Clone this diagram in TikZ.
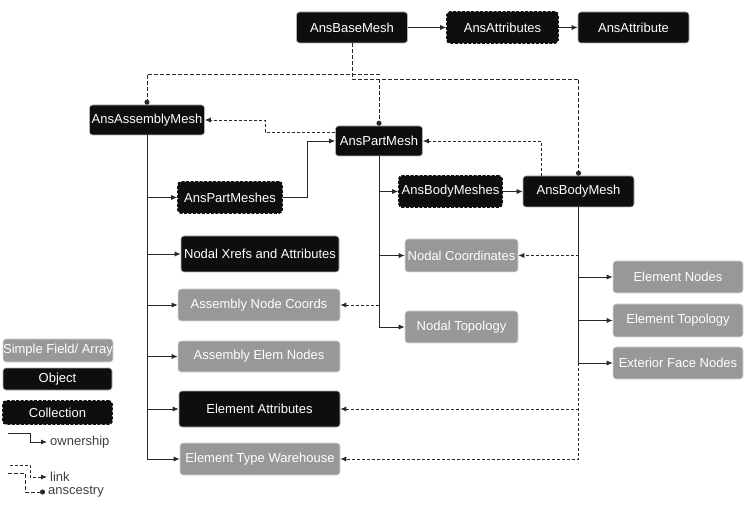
\documentclass[tikz,border=0pt]{standalone}
\usepackage{fontspec}
\setmainfont{Liberation Sans}
\usetikzlibrary{arrows.meta,calc}
\definecolor{boxblack}{RGB}{14,14,14}
\definecolor{boxgray}{RGB}{152,152,152}
\definecolor{linecol}{RGB}{40,40,40}
\begin{document}
\begin{tikzpicture}[x=1pt,y=-1pt,
 bx/.style={rounded corners=3pt, inner sep=0pt, text=white, font=\fontsize{13}{15}\selectfont, align=center},
 objbox/.style={bx, fill=boxblack, draw=black!30, line width=0.6pt},
 fieldbox/.style={bx, fill=boxgray, draw=black!15, line width=0.6pt},
 collbox/.style={bx, fill=boxblack, draw=boxblack, line width=1.6pt, dash pattern=on 3pt off 1.5pt},
 sz/.style 2 args={minimum width=#1pt, minimum height=#2pt},
 plain/.style={draw=linecol, line width=0.8pt},
 own/.style={plain, -{Latex[length=6pt,width=5pt]}},
 link/.style={plain, dash pattern=on 3pt off 2pt, -{Latex[length=6pt,width=5pt]}},
 ancline/.style={plain, dash pattern=on 4pt off 2pt},
 anc/.style={ancline, -{Circle[length=5pt]}},
 legtext/.style={font=\fontsize{13}{15}\selectfont, text=black!75, inner sep=3pt, anchor=west}
]
\useasboundingbox (0,0) rectangle (745,505);

% nodes
\node[objbox, sz={111}{31}] (base) at (352,27.5) {AnsBaseMesh};
\node[collbox, sz={111}{31}] (attrs) at (502.5,27.5) {AnsAttributes};
\node[objbox, sz={111}{31}] (attr) at (633.5,27.5) {AnsAttribute};
\node[objbox, sz={115}{30}] (asm) at (147,120) {AnsAssemblyMesh};
\node[objbox, sz={87}{30}] (part) at (379,141) {AnsPartMesh};
\node[collbox, sz={104}{31}] (pms) at (230,197.5) {AnsPartMeshes};
\node[collbox, sz={103}{31}] (bms) at (450.5,191.5) {AnsBodyMeshes};
\node[objbox, sz={111}{31}] (body) at (578.5,191.5) {AnsBodyMesh};
\node[objbox, sz={158}{36}] (xrefs) at (260,254) {Nodal Xrefs and Attributes};
\node[fieldbox, sz={162}{32}] (anco) at (259,305) {Assembly Node Coords};
\node[fieldbox, sz={113}{33}] (ncoord) at (461.5,255.5) {Nodal Coordinates};
\node[fieldbox, sz={113}{32}] (ntopo) at (461.5,327) {Nodal Topology};
\node[fieldbox, sz={130}{32}] (enodes) at (678,277) {Element Nodes};
\node[fieldbox, sz={130}{33}] (etopo) at (678,320.5) {Element Topology};
\node[fieldbox, sz={130}{32}] (efn) at (678,363) {Exterior Face Nodes};
\node[fieldbox, sz={162}{31}] (aen) at (259,356.5) {Assembly Elem Nodes};
\node[objbox, sz={161}{36}] (eattr) at (259.5,409) {Element Attributes};
\node[fieldbox, sz={160}{32}] (etw) at (260,459) {Element Type Warehouse};

% ownership
\draw[own] (base) -- (attrs);
\draw[own] (attrs) -- (attr);
\draw[own] (asm.south) |- (etw.west);
\foreach \n in {pms, xrefs, anco, aen, eattr}
  \draw[own] (asm.south |- \n.west) -- (\n.west);
\draw[own] (pms.east) -- ++(25,0) |- (part.west);
\draw[own] (part.south) |- (ntopo.west);
\draw[own] (part.south |- bms.west) -- (bms.west);
\draw[own] (part.south |- ncoord.west) -- (ncoord.west);
\draw[own] (bms) -- (body);
\draw[plain] (body.south) -- (body.south |- efn.west);
\foreach \n in {enodes, etopo, efn}
  \draw[own] (body.south |- \n.west) -- (\n.west);

% links
\draw[link] (body.south |- efn.west) |- (etw.east);
\draw[link] (body.south |- eattr.east) -- (eattr.east);
\draw[link] (body.south |- ncoord.east) -- (ncoord.east);
\draw[link] (part.south |- anco.east) -- (anco.east);
\draw[link] ($(body.north west)+(19,0)$) |- (part.east);
\draw[link] ($(part.west)+(0,-9)$) -- ++(-70,0) |- (asm.east);

% ancestry
\coordinate (j1) at (380,74);
\coordinate (j2) at (352,79);
\draw[ancline] (base.south) -- (j2);
\draw[anc] (j1) -| (asm.north);
\draw[anc] (j2) -| (body.north);
\draw[anc] (j2 -| part.north) -- (part.north);

% legend
\node[fieldbox, sz={110}{23}] (lsimple) at (58,350.5) {Simple Field/ Array};
\node[objbox, sz={109}{22}] (lobj) at (57.5,379) {Object};
\node[collbox, sz={109}{23}] (lcoll) at (57.5,412.5) {Collection};

\coordinate (o1) at (8,433);
\node[legtext] (town) at (47,442) {ownership};
\draw[own] (o1) -- ++(22,0) |- (town.west);
\coordinate (l1) at (10,465);
\node[legtext] (tlink) at (47,477) {link};
\draw[link] (l1) -- ++(20,0) |- (tlink.west);
\coordinate (a1) at (8,473);
\node[legtext] (tanc) at (45,492) {anscestry};
\draw[anc] (a1) -- ++(17,0) |- (tanc.west);
\end{tikzpicture}
\end{document}
